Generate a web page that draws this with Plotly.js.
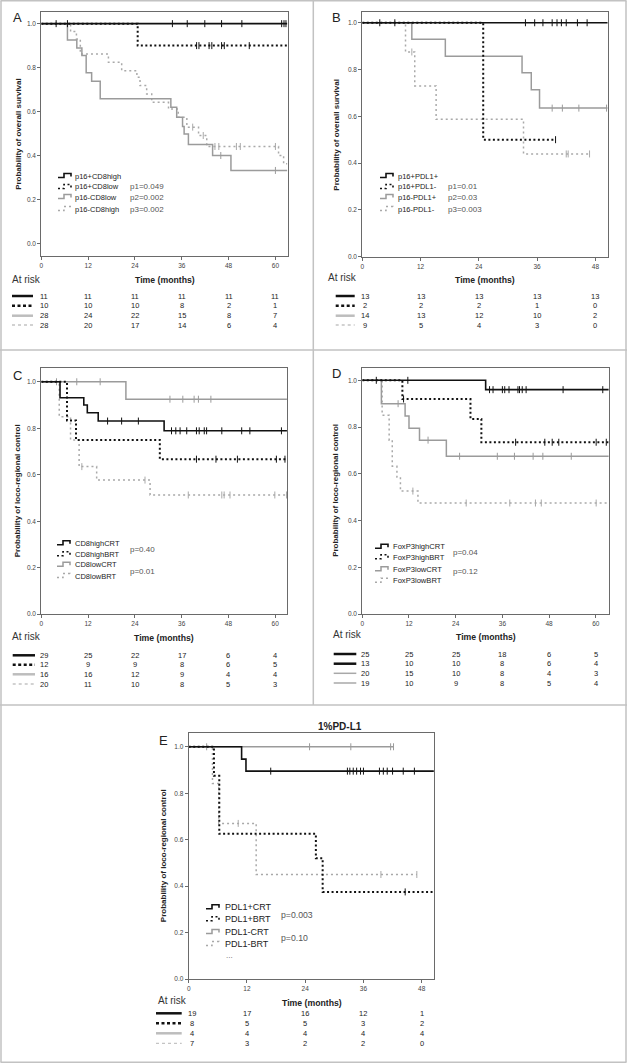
<!DOCTYPE html>
<html><head><meta charset="utf-8">
<script src="https://cdn.plot.ly/plotly-3.0.1.min.js"></script>
<style>html,body{margin:0;padding:0;background:#fff}#chart{width:627px;height:1063px}</style>
</head><body><div id="chart"></div>
<script>
// ================= DATA =================
const ticks60 = [0,12,24,36,48,60];
const ticks48 = [0,12,24,36,48];
const yTicks = [0,0.2,0.4,0.6,0.8,1.0];

// ---- Panel A : overall survival, p16 / CD8 ----
const aNames = ['p16+CD8high','p16+CD8low','p16-CD8low','p16-CD8high'];
const aP = ['p1=0.049','p2=0.002','p3=0.002'];
const aT1 = [0,63]; const aS1 = [1,1];
const aC1 = [3.8,6.7,33.6,37.4,41.9,46.2,51.4,61.6,62.2,62.7];
const aT2 = [0,24.7,63]; const aS2 = [1,0.9,0.9];
const aC2 = [39.8,40.4,43.0,43.7,46.2,46.9,53.3];
const aT3 = [0,6.7,9.1,10.4,11.5,12.9,15.1,33.2,34.7,36.2,36.6,37.7,43.9,48.6,63];
const aS3 = [1,0.926,0.889,0.855,0.776,0.738,0.658,0.62,0.574,0.532,0.498,0.45,0.40,0.332,0.332];
const aC3 = [46.0,60.0];
const aT4 = [0,7.5,9.0,10.0,17.2,20.6,24.5,25.3,27.0,28.3,32.6,35.1,37.3,40.3,42.4,60.8,62.1,63];
const aS4 = [1,0.964,0.93,0.862,0.824,0.786,0.756,0.718,0.68,0.642,0.612,0.574,0.529,0.491,0.441,0.4,0.362,0.362];
const aC4 = [38.8,41.5,44.5,45.5,50.0,51.0,60.0];
const aRisk1 = [11,11,11,11,11,11];
const aRisk2 = [10,10,10,8,2,1];
const aRisk3 = [28,24,22,15,8,7];
const aRisk4 = [28,20,17,14,6,4];

// ---- Panel B : overall survival, p16 / PDL1 ----
const bNames = ['p16+PDL1+','p16+PDL1-','p16-PDL1+','p16-PDL1-'];
const bP = ['p1=0.01','p2=0.03','p3=0.003'];
const bT1 = [0,50.5]; const bS1 = [1,1];
const bC1 = [3.6,6.7,33.6,35.5,37.2,39.1,40.1,41.0,42.0,44.3,46.3];
const bT2 = [0,24.9,39.8]; const bS2 = [1,0.5,0.5];
const bC2 = [39.8];
const bT3 = [0,10.2,17.1,32.9,34.8,36.5,50.5]; const bS3 = [1,0.929,0.857,0.786,0.714,0.635,0.635];
const bC3 = [39.1,41.2,44.6,50.3];
const bT4 = [0,8.9,10.8,15.2,33.2,46.8]; const bS4 = [1,0.875,0.73,0.587,0.439,0.439];
const bC4 = [10.2,42.0,42.4,46.8];
const bRisk1 = [13,13,13,13,13];
const bRisk2 = [2,2,2,1,0];
const bRisk3 = [14,13,12,10,2];
const bRisk4 = [9,5,4,3,0];

// ---- Panel C : loco-regional control, CD8 / treatment ----
const cNames = ['CD8highCRT','CD8highBRT','CD8lowCRT','CD8lowBRT'];
const cP = ['p=0.40','p=0.01'];
const cT1 = [0,4.8,10.9,11.8,14.6,31.5,63]; const cS1 = [1,0.931,0.9,0.867,0.831,0.789,0.789];
const cC1 = [17.0,20.6,24.9,33.4,34.5,35.6,37.3,39.8,40.5,41.8,42.4,46.3,51.4,53.5,61.6];
const cT2 = [0,6.6,8.9,30.4,63]; const cS2 = [1,0.833,0.75,0.667,0.667];
const cC2 = [39.8,44.8,50.3,60.3,62.5];
const cT3 = [0,21.7,63]; const cS3 = [1,0.925,0.925];
const cC3 = [3.9,9.1,15.1,33.0,36.3,39.2,40.3,43.5];
const cT4 = [0,4.6,7.5,9.7,14.2,27.9,63]; const cS4 = [1,0.85,0.75,0.635,0.577,0.513,0.513];
const cC4 = [10.4,26.6,37.7,46.3,46.9,48.4,59.9,62.9];
const cRisk1 = [29,25,22,17,6,4];
const cRisk2 = [12,9,9,8,6,5];
const cRisk3 = [16,16,12,9,4,4];
const cRisk4 = [20,11,10,8,5,3];

// ---- Panel D : loco-regional control, FoxP3 / treatment ----
const dNames = ['FoxP3highCRT','FoxP3highBRT','FoxP3lowCRT','FoxP3lowBRT'];
const dP = ['p=0.04','p=0.12'];
const dT1 = [0,31.7,63.3]; const dS1 = [1,0.96,0.96];
const dC1 = [3.6,11.7,32.7,33.6,36.0,36.6,37.7,40.0,40.4,41.1,42.1,51.6,61.8];
const dT2 = [0,10.3,27.8,30.6,63.3]; const dS2 = [1,0.92,0.835,0.735,0.735];
const dC2 = [10.6,39.4,46.9,48.8,50.5,60.1,62.7];
const dT3 = [0,4.9,11.0,12.0,14.7,21.6,63.3]; const dS3 = [1,0.9,0.847,0.795,0.744,0.675,0.675];
const dC3 = [9.2,16.9,25.0,34.7,39.1,43.9,46.4,53.7];
const dT4 = [0,5.1,6.9,7.7,8.9,9.8,14.3,63.3]; const dS4 = [1,0.851,0.744,0.632,0.586,0.526,0.475,0.475];
const dC4 = [13.0,26.7,37.9,44.5,46.0,60.1];
const dRisk1 = [25,25,25,18,6,5];
const dRisk2 = [13,10,10,8,6,4];
const dRisk3 = [20,15,10,8,4,3];
const dRisk4 = [19,10,9,8,5,4];

// ---- Panel E : loco-regional control, 1% PD-L1 ----
const eTitle = '1%PD-L1';
const eNames = ['PDL1+CRT','PDL1+BRT','PDL1-CRT','PDL1-BRT'];
const eP = ['p=0.003','p=0.10'];
const eT1 = [0,10.9,11.8,50.5]; const eS1 = [1,0.947,0.895,0.895];
const eC1 = [16.9,32.7,33.2,33.9,34.6,35.4,36.0,39.3,40.1,40.9,42.0,44.2,46.5];
const eT2 = [0,5.2,6.3,26.2,27.6,50.5]; const eS2 = [1,0.875,0.625,0.52,0.375,0.375];
const eC2 = [44.6];
const eT3 = [0,42.2]; const eS3 = [1,1];
const eC3 = [3.7,24.9,33.4,41.6,42.2];
const eT4 = [0,4.9,6.2,13.9,47.0]; const eS4 = [1,0.842,0.67,0.45,0.45];
const eC4 = [10.2,39.6,47.0];
const eRisk1 = [19,17,16,12,1];
const eRisk2 = [8,5,5,3,2];
const eRisk3 = [4,4,4,4,4];
const eRisk4 = [7,3,2,2,0];

const titleOS = 'Probability of overall survival';
const titleLRC = 'Probability of loco-regional control';
const xTitle = 'Time (months)';
const riskLabel = 'At risk';

// ================= STYLES / LAYOUT =================
const W = 627, H = 1063;
const X = v => v / W, Y = v => 1 - v / H;
const F = 'Liberation Sans, Arial, sans-serif';

const stBlack = {color:'#111', width:1.6, dash:'solid'};
const stBlackDot = {color:'#111', width:2, dash:'2px,2.5px'};
const stGray = {color:'#9b9b9b', width:1.5, dash:'solid'};
const stGrayDot = {color:'#a9a9a9', width:1.5, dash:'2px,3px'};
const curveStyles = [stBlack, stBlackDot, stGray, stGrayDot];

const smBlack = {color:'#111', width:2.5, dash:'solid'};
const smBlackDash = {color:'#111', width:2.5, dash:'3px,2.5px'};
const smGray = {color:'#bdbdbd', width:2.5, dash:'solid'};
const smGrayDash = {color:'#c4c4c4', width:1.3, dash:'3px,3px'};
const smGrayThin = {color:'#a8a8a8', width:1.5, dash:'solid'};

const panels = [
  {label:'A', lx:17, ly:17, xa:'x', ya:'y', box:[41.3,12,288.3,255.7], xr:[0,63.3], yr:[-0.056,1.053], ticks:ticks60,
   T:[aT1,aT2,aT3,aT4], S:[aS1,aS2,aS3,aS4], C:[aC1,aC2,aC3,aC4], risk:[aRisk1,aRisk2,aRisk3,aRisk4],
   names:aNames, pv:aP, ytitle:titleOS, ytx:19,
   xtY:279.5, arX:10, arY:279, rows:[296,305.7,315.7,325], smp:[12,33], smStyles:[smBlack,smBlackDash,smGray,smGrayDash],
   gX:58, tX:73, lRows:[176,187,197,209], pX:128, pRows:[187,197,209], lf:7.5, pf:8},
  {label:'B', lx:336, ly:17, xa:'x2', ya:'y2', box:[362.3,12,608,257.3], xr:[0,50.6], yr:[-0.003,1.046], ticks:ticks48,
   T:[bT1,bT2,bT3,bT4], S:[bS1,bS2,bS3,bS4], C:[bC1,bC2,bC3,bC4], risk:[bRisk1,bRisk2,bRisk3,bRisk4],
   names:bNames, pv:bP, ytitle:titleOS, ytx:337,
   xtY:279.5, arX:325.7, arY:277.3, rows:[296,305.7,315.7,325], smp:[335.7,354.7], smStyles:[smBlack,smBlackDash,smGray,smGrayDash],
   gX:380, tX:395.7, lRows:[176,187,197,209], pX:445.7, pRows:[187,197,209], lf:7.5, pf:8},
  {label:'C', lx:17, ly:375, xa:'x3', ya:'y3', box:[41.3,368.3,287.3,614.2], xr:[0,63.1], yr:[0,1.058], ticks:ticks60,
   T:[cT1,cT2,cT3,cT4], S:[cS1,cS2,cS3,cS4], C:[cC1,cC2,cC3,cC4], risk:[cRisk1,cRisk2,cRisk3,cRisk4],
   names:cNames, pv:cP, ytitle:titleLRC, ytx:17,
   xtY:637.7, arX:10, arY:636, rows:[655.3,664.7,674.3,684], smp:[12.7,35], smStyles:[smBlack,smBlackDash,smGray,smGrayDash],
   gX:57, tX:72.7, lRows:[543.3,554.3,564.7,576], pX:127.7, pRows:[549,571.3], lf:7.5, pf:8},
  {label:'D', lx:336, ly:373, xa:'x4', ya:'y4', box:[362.3,367.7,609,614], xr:[0,63.4], yr:[0,1.054], ticks:ticks60,
   T:[dT1,dT2,dT3,dT4], S:[dS1,dS2,dS3,dS4], C:[dC1,dC2,dC3,dC4], risk:[dRisk1,dRisk2,dRisk3,dRisk4],
   names:dNames, pv:dP, ytitle:titleLRC, ytx:336,
   xtY:637.3, arX:331.3, arY:634.7, rows:[654,663.7,673.3,683], smp:[333.7,356.3], smStyles:[smBlack,smBlack,smGrayThin,smGrayThin],
   gX:375, tX:391.3, lRows:[546.7,557.3,569.3,580.7], pX:451.3, pRows:[552.7,571.7], lf:7.6, pf:8},
  {label:'E', lx:163, ly:740, xa:'x5', ya:'y5', box:[188.7,733.3,434.3,979], xr:[0,50.6], yr:[0,1.058], ticks:ticks48,
   T:[eT1,eT2,eT3,eT4], S:[eS1,eS2,eS3,eS4], C:[eC1,eC2,eC3,eC4], risk:[eRisk1,eRisk2,eRisk3,eRisk4],
   names:eNames, pv:eP, ytitle:titleLRC, ytx:163, title:eTitle, titleX:340, titleY:726.7,
   xtY:1002.7, arX:156, arY:1000.7, rows:[1013.3,1023.3,1033.3,1043.3], smp:[156,181.7], smStyles:[smBlack,smBlackDash,smGray,smGrayDash],
   gX:206, tX:222.7, lRows:[907.3,919.3,932,944], pX:279.3, pRows:[915,938.3], lf:9, pf:8.7, dots:[224,955]}
];

function stepAt(t, s, x) { let v = s[0]; for (let i = 0; i < t.length; i++) { if (t[i] <= x) v = s[i]; } return v; }
function txt(text, x, y, o) {
  return Object.assign({xref:'paper', yref:'paper', x:X(x), y:Y(y), text, showarrow:false,
    xanchor:'left', yanchor:'middle', font:{family:F, size:8, color:'#222'}}, o || {});
}
function seg(x0,y0,x1,y1,st) {
  return {type:'line', xref:'paper', yref:'paper', x0:X(x0), y0:Y(y0), x1:X(x1), y1:Y(y1),
    line:{color:st.color, width:st.width, dash:st.dash}};
}
function glyph(x0, yc, st) {
  const pts = [[x0,yc+1.5],[x0+6,yc+1.5],[x0+6,yc-2.5],[x0+13,yc-2.5],[x0+13,yc+0.5]];
  return {type:'path', xref:'paper', yref:'paper',
    path:'M' + pts.map(p => X(p[0]).toFixed(5) + ',' + Y(p[1]).toFixed(5)).join('L'),
    line:{color:st.color, width:Math.min(st.width,1.6), dash:st.dash}};
}

const traces = [], annotations = [], shapes = [];
const layout = {width:W, height:H, margin:{l:0,r:0,t:0,b:0}, paper_bgcolor:'#fff', plot_bgcolor:'#fff',
  showlegend:false, hovermode:false};

panels.forEach((p, k) => {
  const n = k === 0 ? '' : String(k + 1);
  const axBase = {showline:true, mirror:true, linecolor:'#6a6a6a', linewidth:1, ticks:'outside', ticklen:3,
    tickcolor:'#6a6a6a', showgrid:false, zeroline:false, automargin:false, fixedrange:true,
    tickfont:{family:F, size:6.5, color:'#444'}};
  layout['xaxis' + n] = Object.assign({}, axBase, {domain:[X(p.box[0]), X(p.box[2])], range:p.xr,
    anchor:p.ya, tickvals:p.ticks});
  layout['yaxis' + n] = Object.assign({}, axBase, {domain:[Y(p.box[3]), Y(p.box[1])], range:p.yr,
    anchor:p.xa, tickvals:yTicks, tickformat:'.1f'});

  // curves (gray first so black lies on top)
  [3,2,1,0].forEach(i => {
    const st = curveStyles[i];
    traces.push({type:'scatter', mode:'lines', x:p.T[i], y:p.S[i], xaxis:p.xa, yaxis:p.ya,
      line:{shape:'hv', color:st.color, width:st.width, dash:st.dash}, cliponaxis:true});
    traces.push({type:'scatter', mode:'markers', x:p.C[i], y:p.C[i].map(c => stepAt(p.T[i], p.S[i], c)),
      xaxis:p.xa, yaxis:p.ya, cliponaxis:false,
      marker:{symbol:'line-ns', size:5, line:{color:st.color, width:1}}});
  });

  annotations.push(txt(p.label, p.lx, p.ly, {xanchor:'center', font:{family:F, size:13, color:'#222'}}));
  if (p.title) annotations.push(txt(p.title, p.titleX, p.titleY, {xanchor:'center', font:{family:F, size:10, color:'#222', weight:'bold'}}));
  annotations.push(txt('<b>' + p.ytitle + '</b>', p.ytx, (p.box[1] + p.box[3]) / 2,
    {xanchor:'center', textangle:-90, font:{family:F, size:8, color:'#222'}}));
  annotations.push(txt('<b>' + xTitle + '</b>', (p.box[0] + p.box[2]) / 2, p.xtY,
    {xanchor:'center', font:{family:F, size:8.7, color:'#222'}}));
  annotations.push(txt(riskLabel, p.arX, p.arY, {font:{family:F, size:10, color:'#333'}}));
  p.risk.forEach((row, r) => {
    shapes.push(seg(p.smp[0], p.rows[r], p.smp[1], p.rows[r], p.smStyles[r]));
    row.forEach((v, c) => {
      annotations.push({xref:p.xa, yref:'paper', x:p.ticks[c], y:Y(p.rows[r]), text:String(v), showarrow:false,
        xanchor:'center', yanchor:'middle', xshift:c === 0 ? 3 : 0, font:{family:F, size:7.5, color:'#222'}});
    });
  });
  p.names.forEach((nm, i) => {
    shapes.push(glyph(p.gX, p.lRows[i], curveStyles[i]));
    annotations.push(txt(nm, p.tX, p.lRows[i], {font:{family:F, size:p.lf, color:'#222'}}));
  });
  if (p.dots) annotations.push(txt('...', p.dots[0], p.dots[1], {font:{family:F, size:8, color:'#666'}}));
  p.pv.forEach((pv, i) => {
    annotations.push(txt(pv, p.pX, p.pRows[i], {font:{family:F, size:p.pf, color:'#555'}}));
  });
});

const frame = {color:'#c2c2c2', width:1.5, dash:'solid'};
shapes.push(seg(1,0.8,1,1062.3,frame));
shapes.push(seg(626,0.8,626,1062.3,frame));
shapes.push(seg(0.5,0.8,626.5,0.8,frame));
shapes.push(seg(0.5,1062.3,626.5,1062.3,frame));
shapes.push(seg(313.3,0,313.3,705,frame));
shapes.push(seg(0,350,627,350,frame));
shapes.push(seg(0,705,627,705,frame));

layout.annotations = annotations;
layout.shapes = shapes;
Plotly.newPlot('chart', traces, layout, {staticPlot:true, displayModeBar:false});
</script>
</body></html>
